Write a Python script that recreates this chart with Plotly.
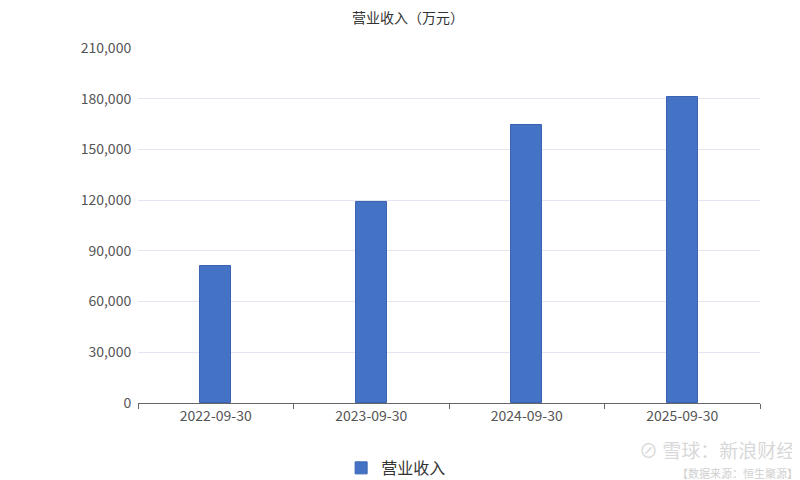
import plotly.graph_objects as go

categories = ["2022-09-30", "2023-09-30", "2024-09-30", "2025-09-30"]
revenue = [80800, 118700, 164300, 181000]
series_name = "营业收入"
title_text = "营业收入（万元）"
y_ticks = [0, 30000, 60000, 90000, 120000, 150000, 180000, 210000]

FONT = "Noto Sans CJK SC"

fig = go.Figure()
fig.add_trace(go.Bar(
    x=categories, y=revenue, name=series_name,
    marker=dict(color="#4472C4", line=dict(color="#3B63B0", width=1)),
    width=0.2,
))

fig.update_layout(
    width=800, height=480,
    paper_bgcolor="white", plot_bgcolor="white",
    margin=dict(l=130, r=48, t=40, b=85, autoexpand=False),
    font=dict(family=FONT, color="#555", size=14),
    title=dict(text=title_text, x=0.5, xanchor="center", y=0.99, yanchor="top",
               font=dict(family=FONT, size=14, color="#333")),
    showlegend=True,
    legend=dict(orientation="h", x=0.415, xanchor="center", y=-0.183, yanchor="middle",
                font=dict(family=FONT, size=16, color="#333"), itemwidth=30),
    xaxis=dict(
        type="category", showgrid=False, showline=True, linecolor="#666", linewidth=1,
        ticks="outside", tickson="boundaries", ticklen=5, tickcolor="#666",
        tickfont=dict(family=FONT, size=14, color="#555"), automargin=False,
    ),
    yaxis=dict(
        range=[0, 210000], tickvals=y_ticks, tickformat=",",
        showgrid=True, gridcolor="#E3E6F2", gridwidth=1, zeroline=False,
        showline=False, ticks="outside", ticklen=3, tickcolor="rgba(0,0,0,0)",
        tickfont=dict(family=FONT, size=14, color="#555"), automargin=False,
    ),
    bargap=0,
)

fig.add_annotation(text="⊘ 雪球：新浪财经", xref="paper", yref="paper",
                   x=1.06, y=-0.132, xanchor="right", yanchor="middle", showarrow=False,
                   font=dict(family=FONT, size=19, color="#D8D8D8"))
fig.add_annotation(text="【数据来源：恒生聚源】", xref="paper", yref="paper",
                   x=1.064, y=-0.197, xanchor="right", yanchor="middle", showarrow=False,
                   font=dict(family=FONT, size=11, color="#D0D0D0"))

fig.write_html("out.html")
